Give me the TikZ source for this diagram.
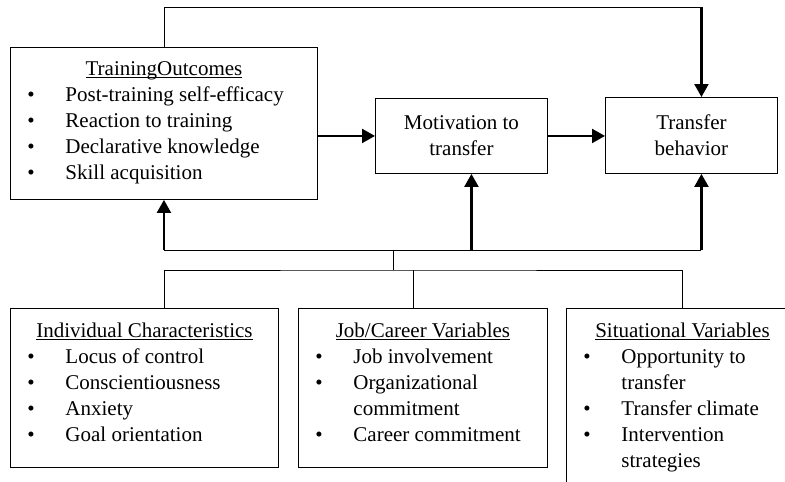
\documentclass[tikz,border=0pt]{standalone}
\usepackage{fontspec}
\setmainfont{Liberation Serif}
\usetikzlibrary{arrows.meta,positioning}

% list lines inside the boxes
\newcommand{\itm}[1]{\par\hspace*{17pt}\makebox[38pt][l]{\textbullet}#1}
\newcommand{\cnt}[1]{\par\hspace*{55pt}#1}
\newcommand{\hdr}[1]{{\centering\underline{\smash{#1}}\par}}

\tikzset{
  every node/.style={font=\fontsize{21}{26}\selectfont},
  panel/.style={draw, line width=0.9pt, inner sep=0pt, anchor=north west},
  bus/.style={line width=0.9pt},
  arr/.style={line width=2.2pt, -{Triangle[length=13pt,width=14pt]}},
}

\begin{document}
\begin{tikzpicture}[x=1pt,y=-1pt]
  \useasboundingbox (0,0) rectangle (785,482);
  \clip (0,0) rectangle (785,482);

  % top row
  \node[panel] (outc) at (10,47) {\parbox[c][152pt][t]{307pt}{\vspace*{28pt}%
    \hdr{TrainingOutcomes}
    \itm{Post-training self-efficacy}
    \itm{Reaction to training}
    \itm{Declarative knowledge}
    \itm{Skill acquisition}}};
  \node[panel, minimum width=172pt, minimum height=75pt, align=center] (motiv) at (375,98) {Motivation to\\transfer};
  \node[panel, minimum width=172pt, minimum height=76pt, align=center] (transf) at (605,97) {Transfer\\behavior};

  % bottom row
  \node[panel] (indiv) at (10,308) {\parbox[c][159pt][t]{268pt}{\vspace*{29pt}%
    \hdr{Individual Characteristics}
    \itm{Locus of control}
    \itm{Conscientiousness}
    \itm{Anxiety}
    \itm{Goal orientation}}};
  \node[panel] (job) at (298,308) {\parbox[c][159pt][t]{249pt}{\vspace*{29pt}%
    \hdr{Job/Career Variables}
    \itm{Job involvement}
    \itm{Organizational}
    \cnt{commitment}
    \itm{Career commitment}}};
  \node[panel] (sit) at (566,308) {\parbox[c][190pt][t]{232pt}{\vspace*{29pt}%
    \hdr{Situational Variables}
    \itm{Opportunity to}
    \cnt{transfer}
    \itm{Transfer climate}
    \itm{Intervention}
    \cnt{strategies}}};

  \coordinate (topline) at (0,7);
  \coordinate (upbus) at (393.7,250);
  \coordinate (lowbus) at (393.7,270);

  % connectors
  \draw[arr] (outc.east |- motiv) -- (motiv);
  \draw[arr] (motiv) -- (transf.west |- motiv);
  \draw[bus] (outc.north) |- ([xshift=10pt]transf.north |- topline);
  \draw[arr] ([xshift=10pt]transf.north |- topline) -- ([xshift=10pt]transf.north);

  \draw[bus] (outc.south |- upbus) -- ([xshift=10pt]transf.south |- upbus);
  \draw[arr] (outc.south |- upbus) -- (outc.south);
  \draw[arr] ([xshift=10pt]motiv.south |- upbus) -- ([xshift=10pt]motiv.south);
  \draw[arr] ([xshift=10pt]transf.south |- upbus) -- ([xshift=10pt]transf.south);
  \draw[bus] (upbus) -- (lowbus);
  \draw[bus] (indiv.north -| outc.south) |- (lowbus) -| (sit.north);
  \draw[bus] ([xshift=-10pt]job.north) -- ([xshift=-10pt]job.north |- lowbus);
\end{tikzpicture}
\end{document}
